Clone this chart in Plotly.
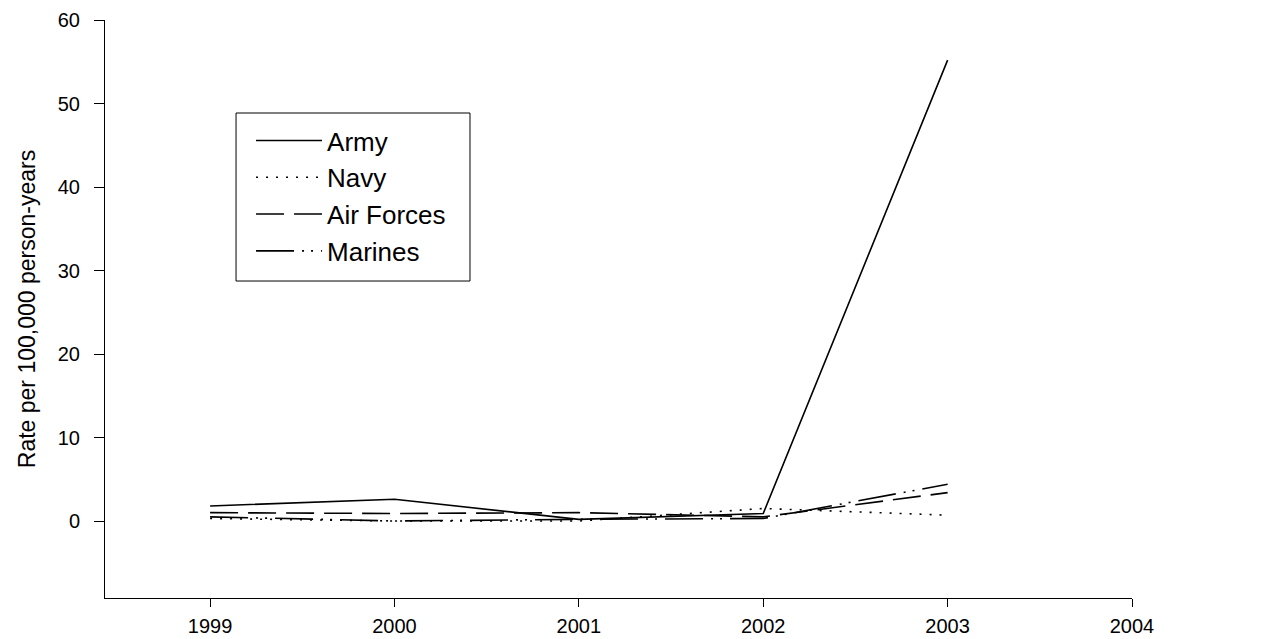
import plotly.graph_objects as go

years = [1999, 2000, 2001, 2002, 2003]
army = [1.8, 2.6, 0.2, 0.9, 55.2]
navy = [0.3, 0.0, 0.0, 1.5, 0.7]
air_forces = [1.0, 0.9, 1.0, 0.5, 3.4]
marines = [0.5, 0.0, 0.2, 0.3, 4.4]

x_ticks = [1999, 2000, 2001, 2002, 2003, 2004]
y_ticks = [0, 10, 20, 30, 40, 50, 60]

series = [
    ("Army", army, "solid"),
    ("Navy", navy, "2px,8px"),
    ("Air Forces", air_forces, "28px,10px"),
    ("Marines", marines, "38px,8px,2px,7px,2px,8px"),
]

fig = go.Figure()
for name, vals, dash in series:
    fig.add_trace(go.Scatter(x=years, y=vals, name=name, mode="lines",
                             line=dict(color="black", width=1.6, dash=dash)))

# legend frame
fig.add_shape(type="rect", xref="paper", yref="paper",
              x0=0.1276, x1=0.3554, y0=0.5484, y1=0.8391,
              line=dict(color="black", width=1), fillcolor="rgba(0,0,0,0)", layer="above")

fig.update_layout(
    width=1276, height=631,
    margin=dict(l=97, r=152, t=12, b=41, autoexpand=False),
    paper_bgcolor="white", plot_bgcolor="white",
    font=dict(family="Liberation Sans, Arial, sans-serif", color="black"),
    showlegend=True,
    legend=dict(x=0.1422, y=0.8321, xanchor="left", yanchor="top",
                borderwidth=0, bgcolor="rgba(0,0,0,0)",
                font=dict(size=26), itemwidth=66, tracegroupgap=0),
    xaxis=dict(range=[1998.43, 2004], tickvals=x_ticks, ticktext=[str(v) for v in x_ticks],
               showgrid=False, zeroline=False, showline=True, linecolor="black", linewidth=1,
               ticks="outside", ticklen=8, tickcolor="black", tickfont=dict(size=20),
               ticklabelstandoff=2, automargin=False),
    yaxis=dict(range=[-9.22, 60], tickvals=y_ticks, ticktext=[str(v) for v in y_ticks],
               showgrid=False, zeroline=False, showline=True, linecolor="black", linewidth=1,
               ticks="outside", ticklen=10, tickcolor="black", tickfont=dict(size=20),
               ticklabelstandoff=10, automargin=False,
               title=dict(text="Rate per 100,000 person-years", font=dict(size=23), standoff=15)),
)

fig.write_html("out.html")
